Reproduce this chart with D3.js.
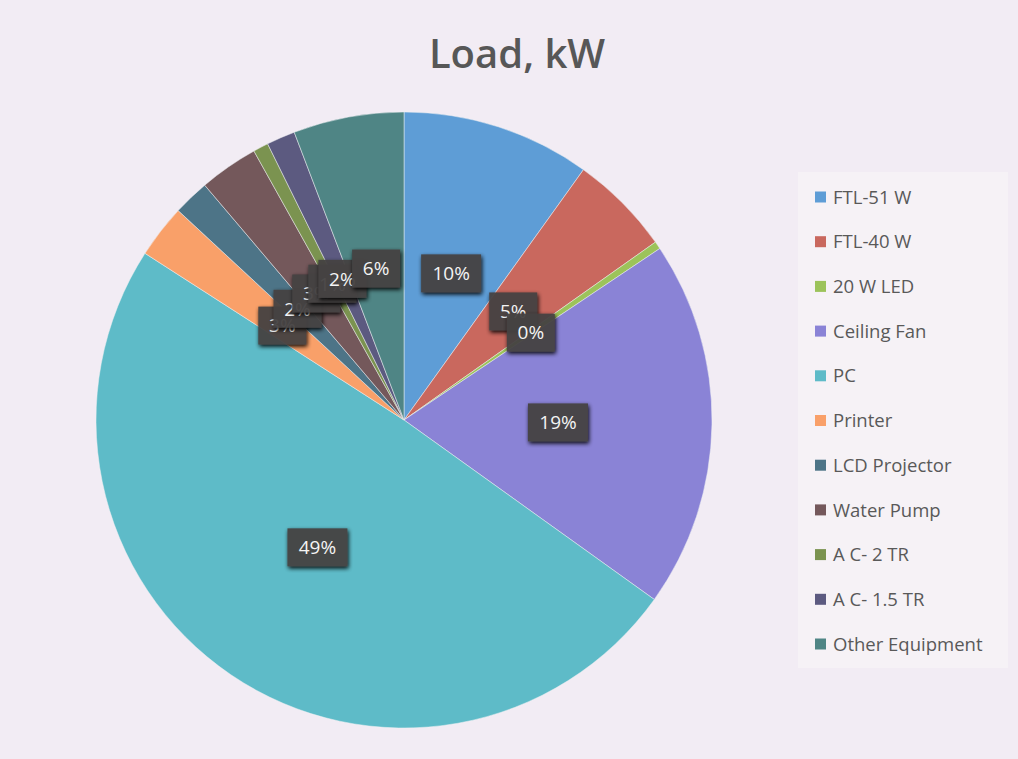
<!DOCTYPE html>
<meta charset="utf-8" />
<script src="https://d3js.org/d3.v7.min.js"></script>
<style>
  body { margin: 0; background: #f2ecf4; }
  svg { display: block; }
</style>
<svg width="1018" height="759" id="pie"></svg>
<script>
  // data (share of total load, %)
  var categories = ["FTL-51 W", "FTL-40 W", "20 W LED", "Ceiling Fan", "PC", "Printer",
    "LCD Projector", "Water Pump", "A C- 2 TR", "A C- 1.5 TR", "Other Equipment"];
  var loads = [9.9, 5.3, 0.4, 19.3, 49.2, 2.8, 1.9, 3.1, 0.8, 1.5, 5.8];
  var colors = ["#5e9dd6", "#c9685e", "#9cc35a", "#8a83d6", "#5ebbc8", "#f9a069",
    "#4d7487", "#74585b", "#7b9350", "#5c5a80", "#4f8585"];

  var svg = d3.select("svg"),
    cx = 404, cy = 420, radius = 308;

  var data = categories.map(function (c, i) { return { name: c, value: loads[i] }; });
  var total = d3.sum(loads);

  // title
  svg.append("text")
    .attr("x", 517)
    .attr("y", 68)
    .attr("text-anchor", "middle")
    .style("font-family", "Open Sans")
    .style("font-weight", 600)
    .style("font-size", "40px")
    .style("fill", "#575757")
    .text("Load, kW");

  var pie = d3.pie().sort(null).value(function (d) { return d.value; });
  var arc = d3.arc().innerRadius(0).outerRadius(radius);
  var labelArc = d3.arc().innerRadius(radius * 0.5).outerRadius(radius * 0.5);

  var g = svg.append("g").attr("transform", "translate(" + cx + "," + cy + ")");
  var arcs = pie(data);

  g.selectAll("path")
    .data(arcs)
    .enter()
    .append("path")
    .attr("d", arc)
    .style("fill", function (d, i) { return colors[i]; })
    .style("stroke", "#eef0f2")
    .style("stroke-width", 0.5);

  // shadow for label boxes
  var defs = svg.append("defs");
  var f = defs.append("filter").attr("id", "soft").attr("x", "-30%").attr("y", "-30%").attr("width", "160%").attr("height", "160%");
  f.append("feGaussianBlur").attr("in", "SourceAlpha").attr("stdDeviation", 2);
  f.append("feOffset").attr("dx", 1).attr("dy", 2).attr("result", "b");
  var m = f.append("feMerge");
  m.append("feMergeNode").attr("in", "b");
  m.append("feMergeNode").attr("in", "SourceGraphic");

  // data labels (small slices crowd together, as in the original)
  var labels = g.selectAll("g.lbl")
    .data(arcs)
    .enter()
    .append("g")
    .attr("class", "lbl")
    .attr("transform", function (d) { return "translate(" + labelArc.centroid(d) + ")"; });

  labels.each(function (d) {
    var sel = d3.select(this);
    var txt = Math.round(d.data.value / total * 100) + "%";
    var w = txt.length > 2 ? 60 : 48;
    sel.append("rect")
      .attr("x", -w / 2)
      .attr("y", -19)
      .attr("width", w)
      .attr("height", 38)
      .style("fill", "#454242")
      .style("opacity", 0.95)
      .attr("filter", "url(#soft)");
    sel.append("text")
      .attr("text-anchor", "middle")
      .attr("dy", "0.36em")
      .style("font-family", "Open Sans")
      .style("font-size", "19px")
      .style("fill", "#f4f4f4")
      .text(txt);
  });

  // legend
  svg.append("rect")
    .attr("x", 798).attr("y", 172)
    .attr("width", 210).attr("height", 496)
    .style("fill", "#f6f2f6");

  var legend = svg.append("g");
  var legendY = d3.scalePoint().domain(categories).range([197, 644]);
  var items = legend.selectAll("g")
    .data(categories)
    .enter()
    .append("g")
    .attr("transform", function (d) { return "translate(815," + legendY(d) + ")"; });
  items.append("rect")
    .attr("x", 0).attr("y", -5.5)
    .attr("width", 11).attr("height", 11)
    .style("fill", function (d, i) { return colors[i]; });
  items.append("text")
    .attr("x", 18)
    .attr("dy", "0.36em")
    .style("font-family", "Open Sans")
    .style("font-size", "18.5px")
    .style("fill", "#595959")
    .text(function (d) { return d; });
</script>
